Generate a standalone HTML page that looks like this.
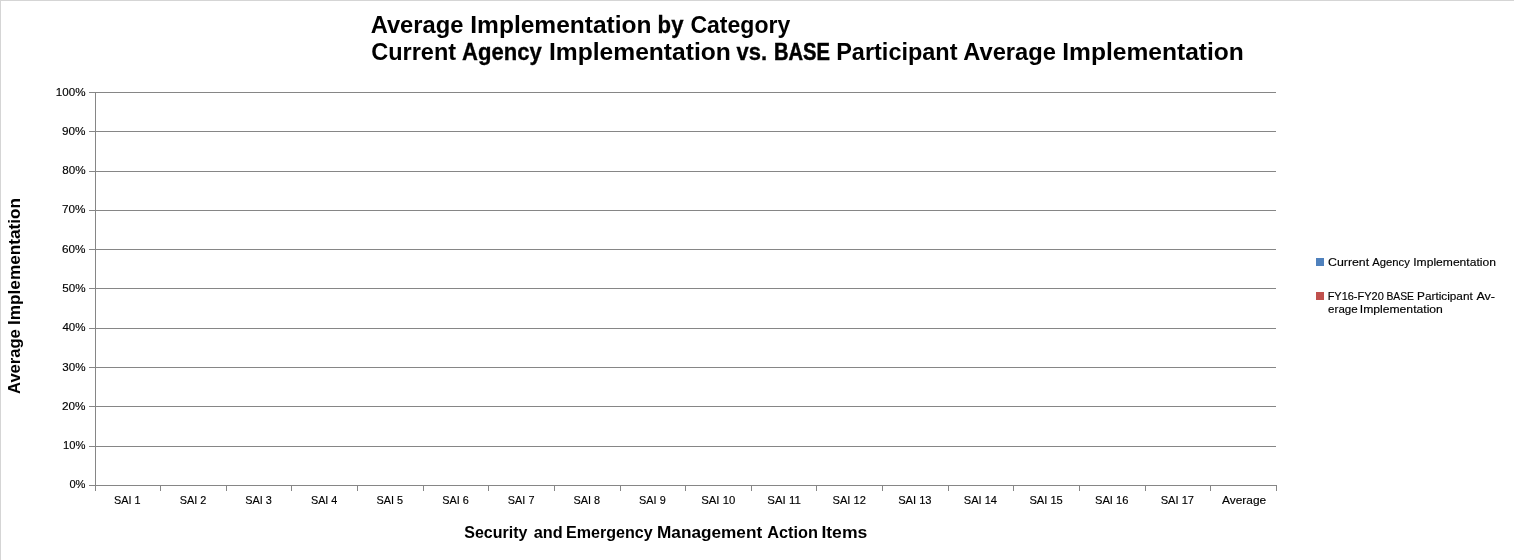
<!DOCTYPE html>
<html lang="en">
<head>
<meta charset="utf-8">
<title>Average Implementation by Category</title>
<style>
html,body{margin:0;padding:0;background:#fff;}
body{width:1514px;height:560px;overflow:hidden;}
svg{display:block;}
text{font-family:"Liberation Sans",sans-serif;fill:#000;}
.b{font-weight:bold;}
.s{font-size:11.2px;stroke:#000;stroke-width:0.15px;}
.g{stroke:#868686;stroke-width:1;fill:none;shape-rendering:crispEdges;}
</style>
</head>
<body>
<svg width="1514" height="560" viewBox="0 0 1514 560">
<rect x="0" y="0" width="1514" height="560" fill="#fff"/>
<rect x="0" y="0" width="1514" height="1" fill="#d5d5d5"/>
<rect x="0" y="0" width="1" height="560" fill="#d5d5d5"/>
<g class="b" font-size="24.8">
<text y="33"><tspan x="370.63" textLength="92.76" lengthAdjust="spacingAndGlyphs">Average</tspan> <tspan x="470.27" textLength="181.32" lengthAdjust="spacingAndGlyphs">Implementation</tspan> <tspan x="657.62" textLength="25.84" lengthAdjust="spacingAndGlyphs" stroke="#000" stroke-width="0.32">by</tspan> <tspan x="690.38" textLength="99.87" lengthAdjust="spacingAndGlyphs">Category</tspan></text>
<text y="60"><tspan x="371.16" textLength="84.95" lengthAdjust="spacingAndGlyphs">Current</tspan> <tspan x="462.06" textLength="79.70" lengthAdjust="spacingAndGlyphs" stroke="#000" stroke-width="0.33">Agency</tspan> <tspan x="548.96" textLength="181.93" lengthAdjust="spacingAndGlyphs">Implementation</tspan> <tspan x="736.50" textLength="30.50" lengthAdjust="spacingAndGlyphs" stroke="#000" stroke-width="0.34">vs.</tspan> <tspan x="773.94" textLength="55.89" lengthAdjust="spacingAndGlyphs" stroke="#000" stroke-width="0.56">BASE</tspan> <tspan x="836.23" textLength="121.28" lengthAdjust="spacingAndGlyphs">Participant</tspan> <tspan x="963.23" textLength="92.76" lengthAdjust="spacingAndGlyphs">Average</tspan> <tspan x="1062.26" textLength="181.62" lengthAdjust="spacingAndGlyphs">Implementation</tspan></text>
</g>
<g class="g">
<line x1="89" x2="1276" y1="92.5" y2="92.5"/>
<line x1="89" x2="1276" y1="131.5" y2="131.5"/>
<line x1="89" x2="1276" y1="171.5" y2="171.5"/>
<line x1="89" x2="1276" y1="210.5" y2="210.5"/>
<line x1="89" x2="1276" y1="249.5" y2="249.5"/>
<line x1="89" x2="1276" y1="288.5" y2="288.5"/>
<line x1="89" x2="1276" y1="328.5" y2="328.5"/>
<line x1="89" x2="1276" y1="367.5" y2="367.5"/>
<line x1="89" x2="1276" y1="406.5" y2="406.5"/>
<line x1="89" x2="1276" y1="446.5" y2="446.5"/>
<line x1="89" x2="1276" y1="485.5" y2="485.5"/>
<line x1="95.5" x2="95.5" y1="92" y2="491"/>
<line x1="160.5" x2="160.5" y1="485" y2="491"/>
<line x1="226.5" x2="226.5" y1="485" y2="491"/>
<line x1="291.5" x2="291.5" y1="485" y2="491"/>
<line x1="357.5" x2="357.5" y1="485" y2="491"/>
<line x1="423.5" x2="423.5" y1="485" y2="491"/>
<line x1="488.5" x2="488.5" y1="485" y2="491"/>
<line x1="554.5" x2="554.5" y1="485" y2="491"/>
<line x1="620.5" x2="620.5" y1="485" y2="491"/>
<line x1="685.5" x2="685.5" y1="485" y2="491"/>
<line x1="751.5" x2="751.5" y1="485" y2="491"/>
<line x1="816.5" x2="816.5" y1="485" y2="491"/>
<line x1="882.5" x2="882.5" y1="485" y2="491"/>
<line x1="948.5" x2="948.5" y1="485" y2="491"/>
<line x1="1013.5" x2="1013.5" y1="485" y2="491"/>
<line x1="1079.5" x2="1079.5" y1="485" y2="491"/>
<line x1="1145.5" x2="1145.5" y1="485" y2="491"/>
<line x1="1210.5" x2="1210.5" y1="485" y2="491"/>
<line x1="1276.5" x2="1276.5" y1="485" y2="491"/>
</g>
<g class="s">
<text y="96"><tspan x="55.87" textLength="29.67" lengthAdjust="spacingAndGlyphs">100%</tspan></text>
<text y="135"><tspan x="62.05" textLength="23.50" lengthAdjust="spacingAndGlyphs">90%</tspan></text>
<text y="174"><tspan x="62.24" textLength="23.31" lengthAdjust="spacingAndGlyphs">80%</tspan></text>
<text y="213"><tspan x="62.05" textLength="23.50" lengthAdjust="spacingAndGlyphs">70%</tspan></text>
<text y="253"><tspan x="62.05" textLength="23.50" lengthAdjust="spacingAndGlyphs">60%</tspan></text>
<text y="292"><tspan x="62.24" textLength="23.31" lengthAdjust="spacingAndGlyphs">50%</tspan></text>
<text y="331"><tspan x="62.42" textLength="23.12" lengthAdjust="spacingAndGlyphs">40%</tspan></text>
<text y="371"><tspan x="62.24" textLength="23.31" lengthAdjust="spacingAndGlyphs">30%</tspan></text>
<text y="410"><tspan x="62.05" textLength="23.50" lengthAdjust="spacingAndGlyphs">20%</tspan></text>
<text y="449"><tspan x="63.10" textLength="22.43" lengthAdjust="spacingAndGlyphs">10%</tspan></text>
<text y="488"><tspan x="69.45" textLength="16.08" lengthAdjust="spacingAndGlyphs">0%</tspan></text>
<text y="504"><tspan x="114.08" textLength="26.58" lengthAdjust="spacingAndGlyphs">SAI 1</tspan></text>
<text y="504"><tspan x="179.71" textLength="26.58" lengthAdjust="spacingAndGlyphs">SAI 2</tspan></text>
<text y="504"><tspan x="245.34" textLength="26.58" lengthAdjust="spacingAndGlyphs">SAI 3</tspan></text>
<text y="504"><tspan x="310.97" textLength="26.41" lengthAdjust="spacingAndGlyphs">SAI 4</tspan></text>
<text y="504"><tspan x="376.60" textLength="26.58" lengthAdjust="spacingAndGlyphs">SAI 5</tspan></text>
<text y="504"><tspan x="442.23" textLength="26.58" lengthAdjust="spacingAndGlyphs">SAI 6</tspan></text>
<text y="504"><tspan x="507.86" textLength="26.58" lengthAdjust="spacingAndGlyphs">SAI 7</tspan></text>
<text y="504"><tspan x="573.49" textLength="26.58" lengthAdjust="spacingAndGlyphs">SAI 8</tspan></text>
<text y="504"><tspan x="639.12" textLength="26.58" lengthAdjust="spacingAndGlyphs">SAI 9</tspan></text>
<text y="504"><tspan x="701.23" textLength="34.04" lengthAdjust="spacingAndGlyphs">SAI 10</tspan></text>
<text y="504"><tspan x="767.26" textLength="33.52" lengthAdjust="spacingAndGlyphs">SAI 11</tspan></text>
<text y="504"><tspan x="832.50" textLength="33.40" lengthAdjust="spacingAndGlyphs">SAI 12</tspan></text>
<text y="504"><tspan x="898.13" textLength="33.40" lengthAdjust="spacingAndGlyphs">SAI 13</tspan></text>
<text y="504"><tspan x="963.76" textLength="33.22" lengthAdjust="spacingAndGlyphs">SAI 14</tspan></text>
<text y="504"><tspan x="1029.39" textLength="33.40" lengthAdjust="spacingAndGlyphs">SAI 15</tspan></text>
<text y="504"><tspan x="1095.02" textLength="33.40" lengthAdjust="spacingAndGlyphs">SAI 16</tspan></text>
<text y="504"><tspan x="1160.65" textLength="33.40" lengthAdjust="spacingAndGlyphs">SAI 17</tspan></text>
<text y="504"><tspan x="1222.00" textLength="44.18" lengthAdjust="spacingAndGlyphs">Average</tspan></text>
<text y="266"><tspan x="1328.02" textLength="41.14" lengthAdjust="spacingAndGlyphs">Current</tspan> <tspan x="1372.20" textLength="37.60" lengthAdjust="spacingAndGlyphs">Agency</tspan> <tspan x="1413.26" textLength="82.67" lengthAdjust="spacingAndGlyphs">Implementation</tspan></text>
<text y="300"><tspan x="1327.64" textLength="56.13" lengthAdjust="spacingAndGlyphs">FY16-FY20</tspan> <tspan x="1386.39" textLength="27.54" lengthAdjust="spacingAndGlyphs">BASE</tspan> <tspan x="1417.08" textLength="55.68" lengthAdjust="spacingAndGlyphs">Participant</tspan> <tspan x="1476.50" textLength="18.55" lengthAdjust="spacingAndGlyphs">Av-</tspan></text>
<text y="313"><tspan x="1328.14" textLength="29.53" lengthAdjust="spacingAndGlyphs">erage</tspan> <tspan x="1359.75" textLength="83.13" lengthAdjust="spacingAndGlyphs">Implementation</tspan></text>
</g>
<g class="b" font-size="17.4">
<text y="538"><tspan x="464.25" textLength="63.15" lengthAdjust="spacingAndGlyphs">Security</tspan> <tspan x="533.75" textLength="28.89" lengthAdjust="spacingAndGlyphs">and</tspan> <tspan x="565.99" textLength="86.70" lengthAdjust="spacingAndGlyphs">Emergency</tspan> <tspan x="657.02" textLength="105.16" lengthAdjust="spacingAndGlyphs">Management</tspan> <tspan x="767.25" textLength="50.74" lengthAdjust="spacingAndGlyphs">Action</tspan> <tspan x="821.40" textLength="45.91" lengthAdjust="spacingAndGlyphs">Items</tspan></text>
<text y="0" transform="translate(20,393.7) rotate(-90)"><tspan x="-0.26" textLength="64.77" lengthAdjust="spacingAndGlyphs">Average</tspan> <tspan x="68.73" textLength="127.00" lengthAdjust="spacingAndGlyphs">Implementation</tspan></text>
</g>
<rect x="1316" y="258" width="8" height="8" fill="#4f81bd"/>
<rect x="1316" y="292" width="8" height="8" fill="#c0504d"/>
</svg>
</body>
</html>
